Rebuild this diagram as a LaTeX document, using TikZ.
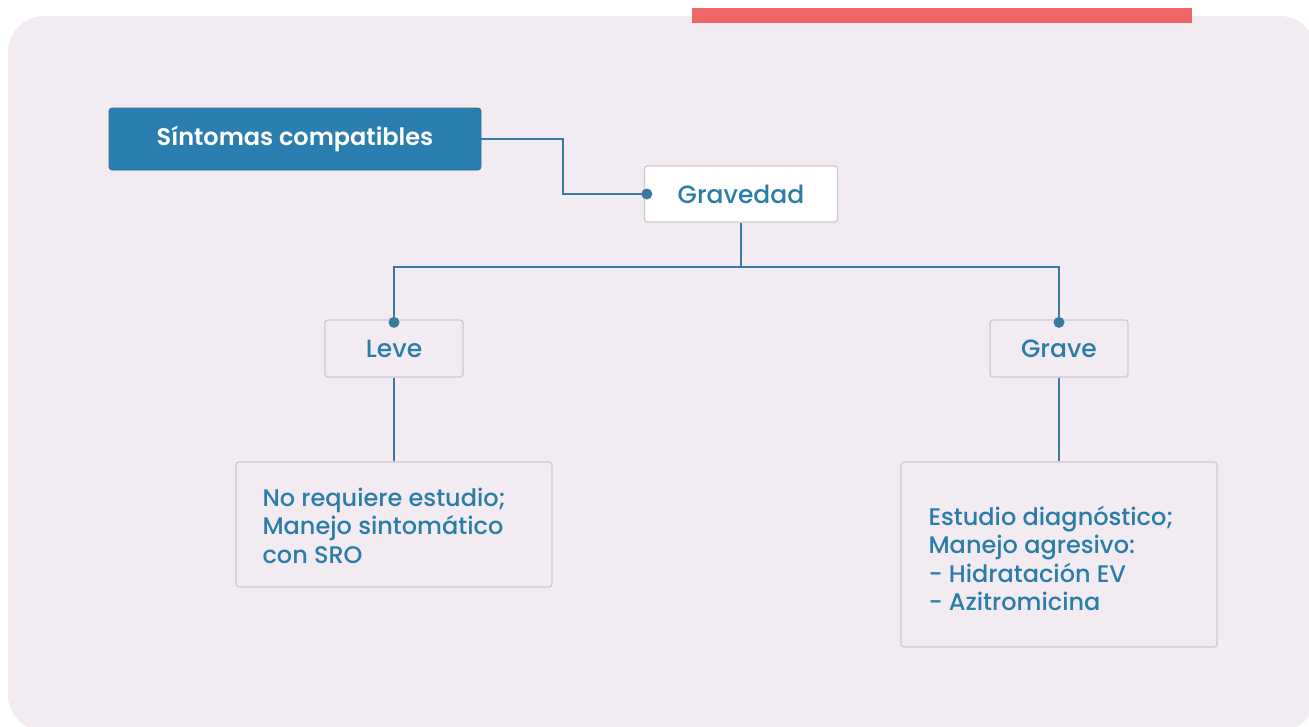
\documentclass[tikz,border=0pt]{standalone}
\usepackage{fontspec}
\setmainfont{Poppins}[UprightFont=* Medium, BoldFont=* SemiBold]
\usetikzlibrary{calc}
\definecolor{panelbg}{HTML}{F2EBF2}
\definecolor{mainblue}{HTML}{2B7FB0}
\definecolor{txtblue}{HTML}{2A7DA8}
\definecolor{linecol}{HTML}{3A7A9E}
\definecolor{boxborder}{HTML}{CFCACF}
\definecolor{redbar}{HTML}{EE6666}
\tikzset{
  conn/.style={draw=linecol, line width=2pt},
  dotm/.style={fill=linecol},
  lbox/.style={draw=boxborder, line width=1.3pt, rounded corners=3pt, text=txtblue,
     font=\fontsize{25}{28.5}\selectfont, inner sep=0pt},
  headbox/.style={fill=mainblue, draw=mainblue!85!black, line width=0.6pt, rounded corners=3pt, text=white,
     font=\fontsize{24}{26}\selectfont\bfseries, minimum width=372pt, minimum height=62pt, inner sep=0pt},
  txtnode/.style={text=txtblue, font=\fontsize{24}{28.5}\selectfont, align=left, inner sep=0pt}
}
\begin{document}
\begin{tikzpicture}[x=1pt,y=-1pt]
\useasboundingbox (0,0) rectangle (1309,726);
% panel
\fill[panelbg, rounded corners=36pt] (8,16) rectangle (1316,731);
\fill[redbar] (692,8) rectangle (1192,23);
% nodes
\node[headbox] (sint) at (295,139) {Síntomas compatibles};
\node[lbox, fill=white, minimum width=193pt, minimum height=56pt] (grav) at (741,194) {Gravedad};
\node[lbox, minimum width=138pt, minimum height=57pt] (leve) at (394,348.5) {Leve};
\node[lbox, minimum width=138pt, minimum height=57pt] (grave) at (1059,348.5) {Grave};
\node[lbox, minimum width=316pt, minimum height=125pt] (lbig) at (394,524.5) {};
\node[lbox, minimum width=316pt, minimum height=185pt] (rbig) at (1059,554.5) {};
\node[txtnode, anchor=west] (ltxt) at ($(lbig.west)+(27,1)$) {No requiere estudio;\\Manejo sintomático\\con SRO};
\node[txtnode, anchor=west] (rtxt) at ($(rbig.west)+(28,4)$) {Estudio diagnóstico;\\Manejo agresivo:\\- Hidratación EV\\- Azitromicina};
% connectors
\draw[conn] (sint.east) -- ++(82,0) coordinate (c1) |- (grav.west);
\fill[dotm] ($(grav.west)+(3,0)$) circle (5.5pt);
\draw[conn] (grav.south) -- ++(0,44) coordinate (c2);
\draw[conn] (c2) -| (leve.north);
\draw[conn] (c2) -| (grave.north);
\fill[dotm] ($(leve.north)+(0,3)$) circle (5.5pt);
\fill[dotm] ($(grave.north)+(0,3)$) circle (5.5pt);
\draw[conn] (leve.south) -- (lbig.north);
\draw[conn] (grave.south) -- (rbig.north);
\end{tikzpicture}
\end{document}
